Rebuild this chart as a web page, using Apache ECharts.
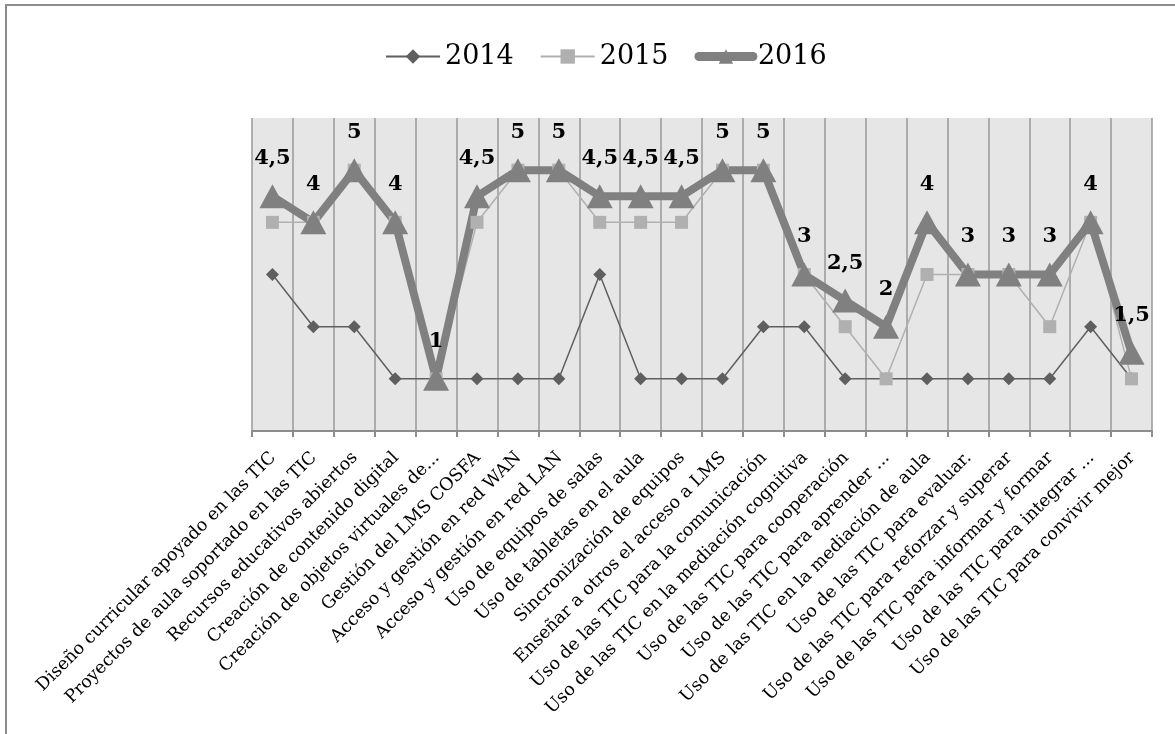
<!DOCTYPE html>
<html>
<head>
<meta charset="utf-8">
<script src="https://cdn.jsdelivr.net/npm/echarts@6/dist/echarts.min.js"></script>
<style>
  html, body { margin: 0; padding: 0; background: #fff; }
  #chart { width: 1175px; height: 734px; }
</style>
</head>
<body>
<div id="chart"></div>
<script>
// Competencias TIC evaluadas por año
const categories = [
  'Diseño curricular apoyado en las TIC',
  'Proyectos de aula soportado en las TIC',
  'Recursos educativos abiertos',
  'Creación de contenido digital',
  'Creación de objetos virtuales de...',
  'Gestión del LMS COSFA',
  'Acceso y gestión en red WAN',
  'Acceso y gestión en red LAN',
  'Uso de equipos de salas',
  'Uso de tabletas en el aula',
  'Sincronización de equipos',
  'Enseñar a otros el acceso a LMS',
  'Uso de las TIC para la comunicación',
  'Uso de las TIC en la mediación cognitiva',
  'Uso de las TIC para cooperación',
  'Uso de las TIC para aprender ...',
  'Uso de las TIC en la mediación de aula',
  'Uso de las TIC para evaluar.',
  'Uso de las TIC para reforzar y superar',
  'Uso de las TIC para informar y formar',
  'Uso de las TIC para integrar ...',
  'Uso de las TIC para convivir mejor'
];

const values2014 = [3, 2, 2, 1, 1, 1, 1, 1, 3, 1, 1, 1, 2, 2, 1, 1, 1, 1, 1, 1, 2, 1];
const values2015 = [4, 4, 5, 4, 1, 4, 5, 5, 4, 4, 4, 5, 5, 3, 2, 1, 3, 3, 3, 2, 4, 1];
const values2016 = [4.5, 4, 5, 4, 1, 4.5, 5, 5, 4.5, 4.5, 4.5, 5, 5, 3, 2.5, 2, 4, 3, 3, 3, 4, 1.5];

const serif = 'DejaVu Serif';

const chart = echarts.init(document.getElementById('chart'));

chart.setOption({
  animation: false,
  backgroundColor: '#ffffff',
  graphic: [{
    type: 'rect',
    silent: true,
    shape: { x: 6, y: 5, width: 1400, height: 1000 },
    style: { fill: 'none', stroke: '#8c8c8c', lineWidth: 2 }
  }],
  legend: {
    top: 38,
    left: 380,
    itemWidth: 54,
    itemHeight: 18,
    itemGap: 26,
    textStyle: { fontFamily: serif, fontSize: 27, color: '#000' },
    data: [
      { name: '2014', lineStyle: { width: 2 } },
      { name: '2015', lineStyle: { width: 2 } },
      { name: '2016', lineStyle: { width: 9, cap: 'round' } }
    ]
  },
  grid: {
    left: 252,
    right: 23,
    top: 118,
    bottom: 303,
    show: true,
    backgroundColor: '#e6e6e6',
    borderWidth: 0
  },
  xAxis: {
    type: 'category',
    data: categories,
    boundaryGap: true,
    axisLine: { lineStyle: { color: '#8c8c8c', width: 2 } },
    axisTick: { show: true, interval: 0, length: 6, lineStyle: { color: '#8c8c8c', width: 2 } },
    splitLine: { show: true, interval: 0, lineStyle: { color: '#999999', width: 1.5 } },
    axisLabel: {
      interval: 0,
      rotate: 45,
      margin: 12,
      padding: [0, 8, 0, 0],
      verticalAlign: 'top',
      fontFamily: serif,
      fontSize: 17.5,
      color: '#000'
    }
  },
  yAxis: {
    type: 'value',
    min: 0,
    max: 6,
    show: false,
    splitLine: { show: false }
  },
  series: [
    {
      name: '2014',
      type: 'line',
      data: values2014,
      symbol: 'diamond',
      symbolSize: 13,
      color: '#5f5f5f',
      lineStyle: { width: 1.5, color: '#5f5f5f' },
      itemStyle: { color: '#5f5f5f' }
    },
    {
      name: '2015',
      type: 'line',
      data: values2015,
      symbol: 'rect',
      symbolSize: 13,
      color: '#b0b0b0',
      lineStyle: { width: 1.5, color: '#b0b0b0' },
      itemStyle: { color: '#b0b0b0' }
    },
    {
      name: '2016',
      type: 'line',
      data: values2016,
      symbol: 'triangle',
      symbolSize: [26, 24],
      color: '#808080',
      lineStyle: { width: 8, color: '#808080', cap: 'round', join: 'round' },
      itemStyle: { color: '#808080' },
      label: {
        show: true,
        position: 'top',
        distance: 15,
        fontFamily: serif,
        fontWeight: 'bold',
        fontSize: 21,
        color: '#000',
        formatter: p => String(p.value).replace('.', ',')
      }
    }
  ]
});
</script>
</body>
</html>
